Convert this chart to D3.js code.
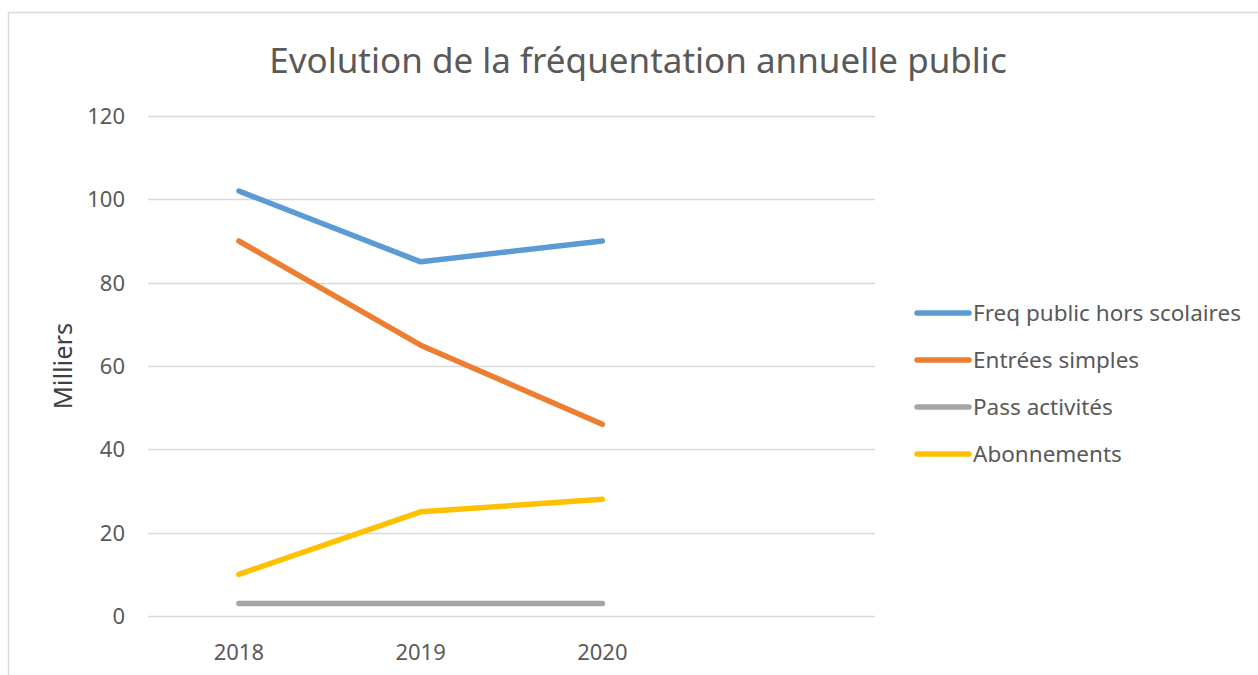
<!DOCTYPE html>
<html>
<head>
<meta charset="utf-8">
<script src="https://cdn.jsdelivr.net/npm/d3@7"></script>
<style>
  body { margin: 0; background: #fff; }
  text { font-family: "Noto Sans", "Open Sans", sans-serif; fill: #595959; }
</style>
</head>
<body>
<div id="chart"></div>
<script>
// data
var categories = ["2018", "2019", "2020", ""];
var seriesNames = ["Freq public hors scolaires", "Entrées simples", "Pass activités", "Abonnements"];
var freqPublic = [102, 85, 90];
var entreesSimples = [90, 65, 46];
var passActivites = [3, 3, 3];
var abonnements = [10, 25, 28];
var yTicks = [0, 20, 40, 60, 80, 100, 120];
var colors = ["#5b9bd5", "#ed7d31", "#a5a5a5", "#ffc000"];

var width = 1258, height = 675;
var margin = {top: 116, left: 148, right: 383, bottom: 59};
var w = width - margin.left - margin.right;
var h = height - margin.top - margin.bottom;

var svg = d3.select("#chart").append("svg")
    .attr("width", width)
    .attr("height", height);

// chart frame
svg.append("rect")
    .attr("x", 8.5)
    .attr("y", 12.5)
    .attr("width", width + 20)
    .attr("height", height + 20)
    .attr("fill", "none")
    .attr("stroke", "#d9d9d9")
    .attr("stroke-width", 1.5);

var x = d3.scaleBand().domain(categories).range([margin.left, margin.left + w]);
var y = d3.scaleLinear().domain([0, 120]).range([margin.top + h, margin.top]);

// grid lines
svg.append("g").selectAll("line")
    .data(yTicks)
  .enter().append("line")
    .attr("x1", margin.left)
    .attr("x2", margin.left + w)
    .attr("y1", function (d) { return Math.round(y(d)) + 0.5; })
    .attr("y2", function (d) { return Math.round(y(d)) + 0.5; })
    .attr("stroke", "#d9d9d9")
    .attr("stroke-width", 1.3);

// y tick labels
svg.append("g").selectAll("text")
    .data(yTicks)
  .enter().append("text")
    .attr("x", 125)
    .attr("y", function (d) { return y(d); })
    .attr("dy", "0.36em")
    .attr("text-anchor", "end")
    .attr("font-size", "22px")
    .text(function (d) { return d; });

// x tick labels
svg.append("g").selectAll("text")
    .data(categories)
  .enter().append("text")
    .attr("x", function (d) { return x(d) + x.bandwidth() / 2; })
    .attr("y", margin.top + h + 44)
    .attr("text-anchor", "middle")
    .attr("font-size", "22px")
    .text(function (d) { return d; });

// y axis title
svg.append("text")
    .attr("transform", "translate(72," + (margin.top + h / 2) + ") rotate(-90)")
    .attr("text-anchor", "middle")
    .attr("font-size", "25.5px")
    .style("fill", "#404040")
    .text("Milliers");

// title
svg.append("text")
    .attr("x", 638)
    .attr("y", 73)
    .attr("text-anchor", "middle")
    .attr("font-size", "35px")
    .text("Evolution de la fréquentation annuelle public");

// lines
var allSeries = [freqPublic, entreesSimples, passActivites, abonnements];
var line = d3.line()
    .x(function (d, i) { return x(categories[i]) + x.bandwidth() / 2; })
    .y(function (d) { return y(d); });

svg.append("g").selectAll("path")
    .data(allSeries)
  .enter().append("path")
    .attr("d", line)
    .attr("fill", "none")
    .attr("stroke", function (d, i) { return colors[i]; })
    .attr("stroke-width", 5.5)
    .attr("stroke-linecap", "round")
    .attr("stroke-linejoin", "round");

// legend
var legend = svg.append("g").selectAll("g")
    .data(seriesNames)
  .enter().append("g")
    .attr("transform", function (d, i) { return "translate(917," + (313 + i * 47) + ")"; });

legend.append("line")
    .attr("x1", 0)
    .attr("x2", 52)
    .attr("stroke", function (d, i) { return colors[i]; })
    .attr("stroke-width", 5.5)
    .attr("stroke-linecap", "round");

legend.append("text")
    .attr("x", 56)
    .attr("dy", "0.36em")
    .attr("font-size", "22.5px")
    .text(function (d) { return d; });
</script>
</body>
</html>
